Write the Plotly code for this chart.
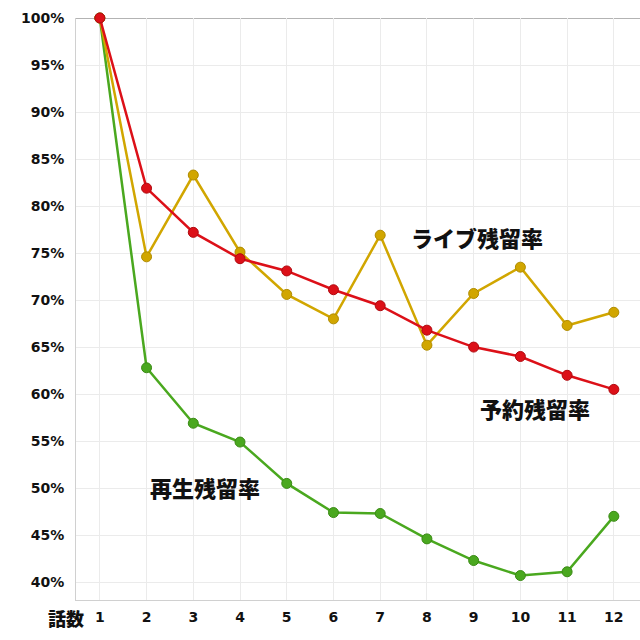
import plotly.graph_objects as go

episodes = list(range(1, 13))
yoyaku = [100, 81.9, 77.2, 74.4, 73.1, 71.1, 69.4, 66.8, 65.0, 64.0, 62.0, 60.5]
live = [100, 74.6, 83.3, 75.1, 70.6, 68.0, 76.9, 65.2, 70.7, 73.5, 67.3, 68.7]
saisei = [100, 62.8, 56.9, 54.9, 50.5, 47.4, 47.3, 44.6, 42.3, 40.7, 41.1, 47.0]
y_ticks = list(range(40, 101, 5))
y_ticklabels = [f"{v}%" for v in y_ticks]

series = [
    ("再生残留率", saisei, "#4aa81f", "#3a8a15"),
    ("ライブ残留率", live, "#d1a600", "#b08c00"),
    ("予約残留率", yoyaku, "#dc1018", "#b00a10"),
]

fig = go.Figure()
for name, vals, col, edge in series:
    fig.add_trace(go.Scatter(
        x=episodes, y=vals, mode="lines+markers", name=name,
        line=dict(color=col, width=2.5),
        marker=dict(size=10, color=col, line=dict(color=edge, width=1)),
        cliponaxis=False,
    ))

label_font = dict(family="Noto Sans CJK JP", size=22, color="#111111", weight=900)
fig.add_annotation(x=9.07, y=76.7, text="ライブ残留率", showarrow=False, font=label_font)
fig.add_annotation(x=10.31, y=58.5, text="予約残留率", showarrow=False, font=label_font)
fig.add_annotation(x=3.25, y=50.1, text="再生残留率", showarrow=False, font=label_font)
fig.add_annotation(x=(66 - 76) / 564, y=-(618 - 600) / 582, xref="paper", yref="paper",
                   text="話数", showarrow=False, xanchor="center", yanchor="middle",
                   font=dict(family="Noto Sans CJK JP", size=18, color="#111111", weight=900))

fig.add_shape(type="line", xref="paper", yref="y", x0=0, x1=1, y0=100, y1=100,
              line=dict(color="#9a9a9a", width=1.5), layer="below")

fig.update_layout(
    width=640, height=640,
    margin=dict(l=76, r=0, t=18, b=40),
    paper_bgcolor="white", plot_bgcolor="white",
    showlegend=False,
    xaxis=dict(range=[0.49, 12.56], tickvals=episodes, ticktext=[str(e) for e in episodes],
               showgrid=True, gridcolor="#ebebeb", gridwidth=1,
               showline=True, linecolor="#d0d0d0", linewidth=1, zeroline=False,
               tickfont=dict(family="DejaVu Sans", size=14, color="#111111", weight="bold"),
               ticks="", ticklabelstandoff=4),
    yaxis=dict(range=[38.1, 100], tickvals=y_ticks, ticktext=y_ticklabels,
               showgrid=True, gridcolor="#ebebeb", gridwidth=1,
               showline=True, linecolor="#d0d0d0", linewidth=1, zeroline=False,
               tickfont=dict(family="DejaVu Sans", size=14, color="#111111", weight="bold"),
               ticks="", ticklabelstandoff=8),
)

fig.write_html("out.html")
